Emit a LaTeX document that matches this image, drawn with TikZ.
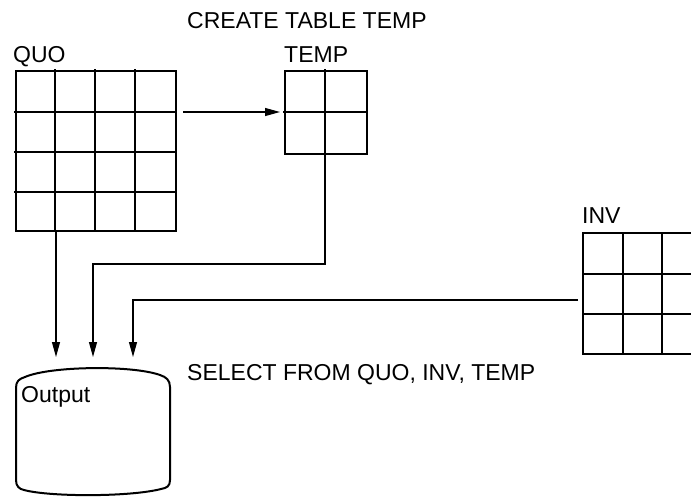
\documentclass[tikz,border=0pt]{standalone}
\usepackage{fontspec}
\setmainfont{Liberation Sans}
\usetikzlibrary{arrows.meta}
\begin{document}
\begin{tikzpicture}[x=1pt,y=-1pt,
  lbl/.style={inner sep=0pt,anchor=base west,font=\fontsize{23}{26}\selectfont},
  gridline/.style={line width=2.3pt,line cap=rect},
  gridbox/.style={draw,line width=2.3pt,inner sep=0pt,anchor=north west},
  conn/.style={line width=1.1pt},
  tip/.style={-{Triangle[length=15pt,width=8pt]}},
  boxline/.style={line width=2pt,line join=round}]
\useasboundingbox (0,0) rectangle (691,496);
\clip (0,0) rectangle (691,496);
% labels
\node[lbl] (create) at (187,28) {CREATE TABLE TEMP};
\node[lbl] (quolbl) at (13,62) {QUO};
\node[lbl] (templbl) at (284,62) {TEMP};
\node[lbl] (invlbl) at (582,223) {INV};
\node[lbl] (select) at (187,380) {SELECT FROM QUO, INV, TEMP};
% QUO grid
\node[gridbox,minimum width=160pt,minimum height=160pt] (quo) at (15,70) {};
\foreach \x in {55,95,135} \draw[gridline] (\x,70) -- (\x,230);
\foreach \y in {112,152,192} \draw[gridline] (15,\y) -- (175,\y);
% TEMP grid
\node[gridbox,minimum width=82pt,minimum height=83pt] (temp) at (284,70) {};
\draw[gridline] (325,70) -- (325,153);
\draw[gridline] (284,112) -- (366,112);
% INV grid (cut by the right edge)
\node[inner sep=0pt,minimum width=120pt,minimum height=121pt,anchor=north west] (inv) at (583,233) {};
\foreach \y in {233,274,314,354} \draw[gridline] (583,\y) -- (700,\y);
\foreach \x in {583,623,662} \draw[gridline] (\x,233) -- (\x,354);
% Output box
\draw[boxline] (16,480) -- (16,388) .. controls (16,381) and (19,379) .. (25,377)
  .. controls (50,366) and (132,365) .. (160,375)
  .. controls (166,377) and (170,380) .. (170,387) -- (170,480)
  .. controls (170,486) and (167,488) .. (161,489)
  .. controls (130,497) and (50,497) .. (24,490)
  .. controls (19,489) and (16,486) .. (16,480) -- cycle;
\node[lbl] (output) at (21,402) {Output};
% connector points
\coordinate (qa) at (183,112);
\coordinate (ta) at (280,112);
\coordinate (q0) at (56,230);
\coordinate (o1) at (56,357);
\coordinate (t0) at (325,153);
\coordinate (t1) at (325,264);
\coordinate (t2) at (93,264);
\coordinate (o2) at (93,357);
\coordinate (i0) at (578,300);
\coordinate (i1) at (133,300);
\coordinate (o3) at (133,357);
% connectors
\draw[conn,tip] (qa) -- (ta);
\draw[conn,tip] (q0) -- (o1);
\draw[conn,tip] (t0) -- (t1) -- (t2) -- (o2);
\draw[conn,tip] (i0) -- (i1) -- (o3);
\end{tikzpicture}
\end{document}
